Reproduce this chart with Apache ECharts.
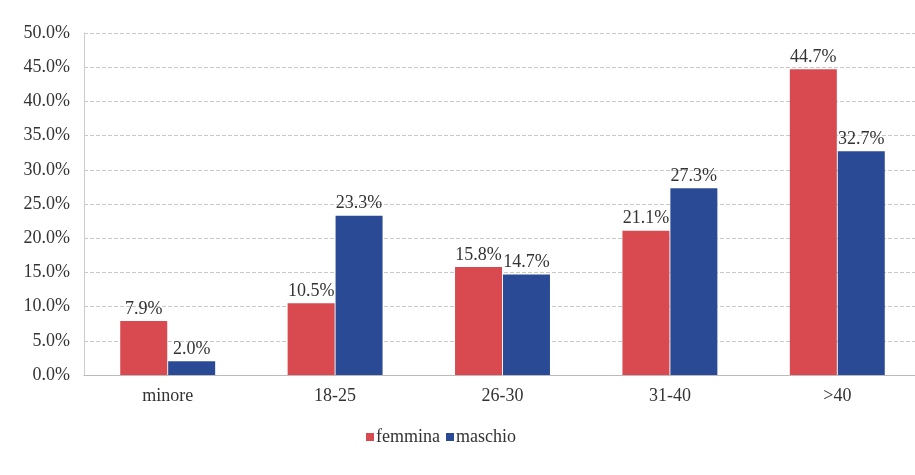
<!DOCTYPE html>
<html>
<head>
<meta charset="utf-8">
<script src="https://cdn.jsdelivr.net/npm/echarts@6/dist/echarts.min.js"></script>
<style>
html,body{margin:0;padding:0;background:#fff;overflow:hidden;}
#c{width:921px;height:475px;}
</style>
</head>
<body>
<div id="c"></div>
<script>
const categories = ["minore", "18-25", "26-30", "31-40", ">40"];
const femmina = [7.9, 10.5, 15.8, 21.1, 44.7];
const maschio = [2.0, 23.3, 14.7, 27.3, 32.7];
const seriesNames = ["femmina", "maschio"];

const chart = echarts.init(document.getElementById('c'), null, {renderer: 'canvas'});
const font = '"Liberation Serif", "DejaVu Serif", serif';
const pct = v => v.toFixed(1) + '%';
chart.setOption({
  backgroundColor: '#ffffff',
  animation: false,
  textStyle: {fontFamily: font},
  grid: {left: 84, top: 33, bottom: 100, right: 0, containLabel: false},
  legend: {
    data: seriesNames,
    bottom: 24,
    left: 361,
    icon: 'rect',
    itemWidth: 8,
    itemHeight: 8,
    itemGap: 6,
    textStyle: {fontFamily: font, fontSize: 18, color: '#333', padding: [0, 0, 0, -3]}
  },
  xAxis: {
    type: 'category',
    data: categories,
    axisTick: {show: false},
    axisLine: {lineStyle: {color: '#bbbbbb'}},
    axisLabel: {fontFamily: font, fontSize: 18, color: '#333', margin: 12}
  },
  yAxis: {
    type: 'value',
    min: 0, max: 50, interval: 5,
    axisLine: {show: true, lineStyle: {color: '#cccccc'}},
    axisTick: {show: false},
    splitLine: {lineStyle: {color: '#c8c8c8', type: 'dashed'}},
    axisLabel: {fontFamily: font, fontSize: 18, color: '#333', formatter: v => v.toFixed(1) + '%', margin: 14}
  },
  series: [
    {
      name: seriesNames[0], type: 'bar', data: femmina,
      barWidth: 47, barGap: '2%',
      itemStyle: {color: '#d84a50'},
      label: {show: true, position: 'top', formatter: p => pct(p.value), fontFamily: font, fontSize: 18, color: '#333', distance: 3}
    },
    {
      name: seriesNames[1], type: 'bar', data: maschio,
      barWidth: 47,
      itemStyle: {color: '#2b4a96'},
      label: {show: true, position: 'top', formatter: p => pct(p.value), fontFamily: font, fontSize: 18, color: '#333', distance: 3}
    }
  ]
});
</script>
</body>
</html>
